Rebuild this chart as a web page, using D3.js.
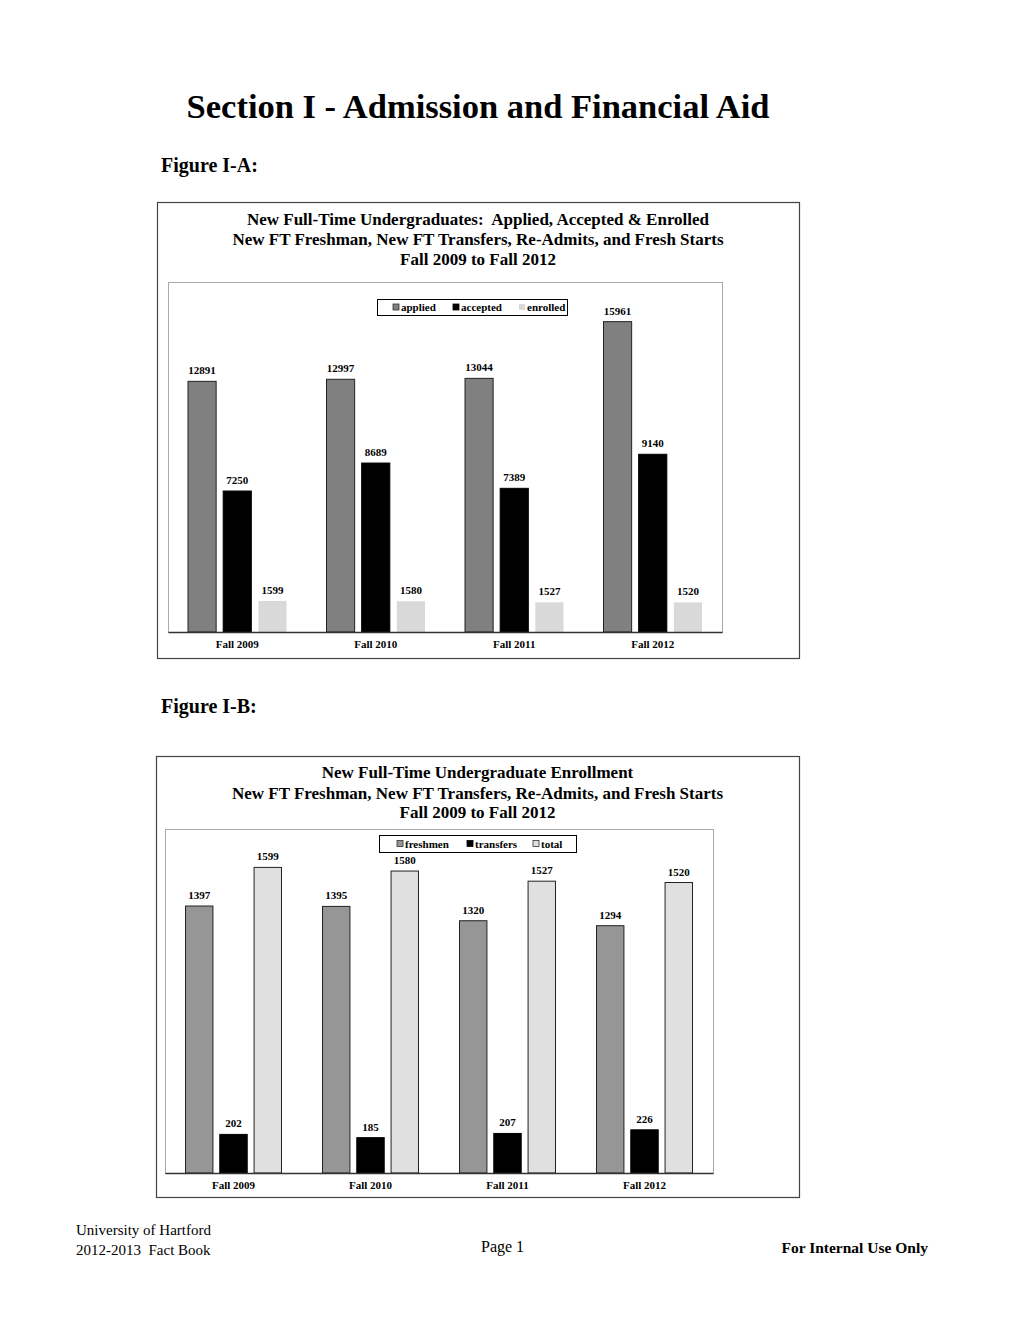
<!DOCTYPE html>
<html><head><meta charset="utf-8">
<script src="https://cdn.jsdelivr.net/npm/d3@7"></script>
<style>
body{margin:0;background:#fff;}
svg text{font-family:"Liberation Serif","Times New Roman",serif;}
</style></head>
<body>
<script>
// ---- Data ----
const categories = ["Fall 2009","Fall 2010","Fall 2011","Fall 2012"];
const seriesA = ["applied","accepted","enrolled"];
const applied  = [12891,12997,13044,15961];
const accepted = [7250,8689,7389,9140];
const enrolled = [1599,1580,1527,1520];
const seriesB = ["freshmen","transfers","total"];
const freshmen  = [1397,1395,1320,1294];
const transfers = [202,185,207,226];
const total     = [1599,1580,1527,1520];
const titleA = ["New Full-Time Undergraduates:  Applied, Accepted & Enrolled",
  "New FT Freshman, New FT Transfers, Re-Admits, and Fresh Starts","Fall 2009 to Fall 2012"];
const titleB = ["New Full-Time Undergraduate Enrollment",
  "New FT Freshman, New FT Transfers, Re-Admits, and Fresh Starts","Fall 2009 to Fall 2012"];

const W=1020,H=1319;
const svg=d3.select("body").append("svg").attr("width",W).attr("height",H);

// Page header
svg.append("text").attr("x",478).attr("y",118).attr("text-anchor","middle")
  .attr("font-size",34.5).attr("font-weight","bold").text("Section I - Admission and Financial Aid");
svg.append("text").attr("x",161).attr("y",172).attr("font-size",20).attr("font-weight","bold").text("Figure I-A:");
svg.append("text").attr("x",161).attr("y",713).attr("font-size",20).attr("font-weight","bold").text("Figure I-B:");

// Footer
svg.append("text").attr("x",76).attr("y",1235).attr("font-size",15).text("University of Hartford");
svg.append("text").attr("x",76).attr("y",1255).attr("font-size",15).attr("xml:space","preserve").text("2012-2013  Fact Book");
svg.append("text").attr("x",481).attr("y",1252).attr("font-size",16).text("Page 1");
svg.append("text").attr("x",928).attr("y",1253).attr("text-anchor","end").attr("font-size",15.5).attr("font-weight","bold").text("For Internal Use Only");

function chart(o){
  const g=svg.append("g");
  g.append("rect").attr("x",o.box[0]+0.5).attr("y",o.box[1]+0.5).attr("width",o.box[2]-o.box[0]).attr("height",o.box[3]-o.box[1])
    .attr("fill","#fff").attr("stroke","#444").attr("stroke-width",1.2);
  o.title.forEach((t,i)=>g.append("text").attr("x",(o.box[0]+o.box[2])/2).attr("y",o.titleY[i])
    .attr("xml:space","preserve")
    .attr("text-anchor","middle").attr("font-size",17).attr("font-weight","bold").text(t));
  const [L,T,R,B]=o.plot;
  g.append("rect").attr("x",L+0.5).attr("y",T+0.5).attr("width",R-L).attr("height",B-T)
    .attr("fill","#fff").attr("stroke","#aaa").attr("stroke-width",1);
  const x0=d3.scaleBand().domain(categories).range([L,R]).paddingInner(0).paddingOuter(0);
  const x1=d3.scaleBand().domain(o.series).range([o.inset,x0.bandwidth()-o.inset]).paddingInner(o.gap);
  const y=d3.scaleLinear().domain([0,o.max]).range([B,T]);
  const data=categories.map((c,i)=>({c,vals:o.series.map((s,j)=>({s,j,v:o.values[j][i]}))}));
  const grp=g.selectAll("g.grp").data(data).join("g").attr("transform",d=>`translate(${x0(d.c)},0)`);
  grp.selectAll("rect").data(d=>d.vals).join("rect")
    .attr("x",d=>x1(d.s)).attr("width",x1.bandwidth())
    .attr("y",d=>y(d.v)).attr("height",d=>B-y(d.v))
    .attr("fill",d=>o.colors[d.j]).attr("stroke",d=>o.strokes[d.j]).attr("stroke-width",1);
  grp.selectAll("text").data(d=>d.vals).join("text")
    .attr("x",d=>x1(d.s)+x1.bandwidth()/2).attr("y",d=>y(d.v)-7)
    .attr("text-anchor","middle").attr("font-size",11).attr("font-weight","bold").text(d=>d.v);
  // axis
  const ax=g.append("g").attr("transform",`translate(0,${B})`).call(d3.axisBottom(x0).tickSize(0).tickPadding(8));
  ax.select(".domain").attr("stroke","#333").attr("stroke-width",1.5);
  ax.selectAll("text").attr("font-size",11).attr("font-weight","bold").attr("font-family","Liberation Serif, serif").attr("fill","#000");
  // legend
  const [lx,ly,lw,lh]=o.legend;
  g.append("rect").attr("x",lx+0.5).attr("y",ly+0.5).attr("width",lw).attr("height",lh).attr("fill","#fff").attr("stroke","#000");
  o.series.forEach((s,j)=>{
    const sx=lx+o.legX[j];
    g.append("rect").attr("x",sx).attr("y",ly+lh/2-3).attr("width",6).attr("height",6)
      .attr("fill",o.colors[j]).attr("stroke",o.legStroke[j]).attr("stroke-width",0.8);
    g.append("text").attr("x",sx+8).attr("y",ly+lh/2+4).attr("font-size",11).attr("font-weight","bold").text(s);
  });
}

chart({box:[157,202,799,658],titleY:[225,245,265],title:titleA,plot:[168,282,722,632],
  series:seriesA,values:[applied,accepted,enrolled],max:18000,inset:20,gap:0.2,
  colors:["#808080","#000","#d9d9d9"],strokes:["#222","#000","none"],
  legend:[377,299,190,16],legX:[16,76,142],legStroke:["#333","#000","none"]});

chart({box:[156,756,799,1197],titleY:[778,799,818],title:titleB,plot:[165,829,713,1173],
  series:seriesB,values:[freshmen,transfers,total],max:1800,inset:20.5,gap:0.2,
  colors:["#969696","#000","#e0e0e0"],strokes:["#222","#000","#222"],
  legend:[379,835,197,17],legX:[18,88,154],legStroke:["#333","#000","#333"]});
</script>
</body></html>
